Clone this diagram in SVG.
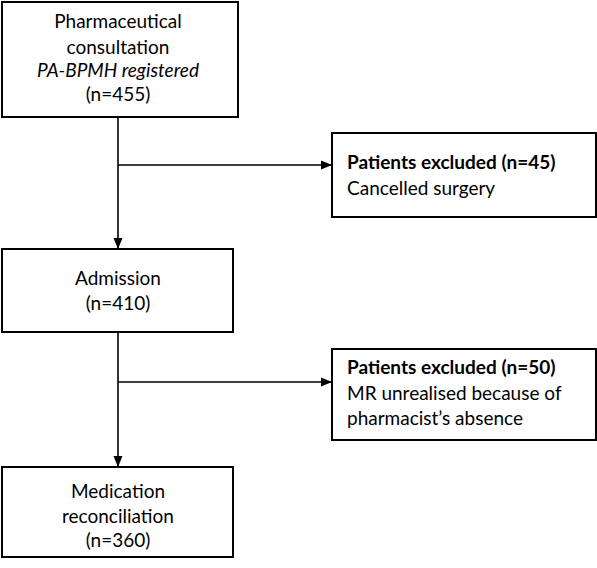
<svg xmlns="http://www.w3.org/2000/svg" width="597" height="568" viewBox="0 0 597 568">
<style>
.box{fill:#fff;stroke:#000;stroke-width:2}
.t{font-family:Lato,"Open Sans","Liberation Sans",sans-serif;font-size:19px;fill:#000}
.c{text-anchor:middle}
.b{font-weight:bold}
.i{font-style:italic}
.ln{stroke:#000;stroke-width:1.6;fill:none}
</style>
<defs>
<marker id="ah" markerWidth="11" markerHeight="10" refX="10" refY="5" orient="auto" markerUnits="userSpaceOnUse">
<path d="M0,0.5 L11,5 L0,9.5 Z" fill="#000"/>
</marker>
</defs>
<g id="connectors">
<path class="ln" d="M118,117 V248" marker-end="url(#ah)"/>
<path class="ln" d="M118,165 H331" marker-end="url(#ah)"/>
<path class="ln" d="M118,332 V466" marker-end="url(#ah)"/>
<path class="ln" d="M118,382 H331" marker-end="url(#ah)"/>
</g>
<g id="consultation">
<rect class="box" x="2" y="2" width="236" height="115"/>
<text class="t c" x="118" y="28">Pharmaceutical</text>
<text class="t c" x="118" y="54">consultation</text>
<text class="t c i" x="118" y="77">PA-BPMH registered</text>
<text class="t c" x="118" y="101">(n=455)</text>
</g>
<g id="excluded1">
<rect class="box" x="332" y="133" width="264" height="84"/>
<text class="t b" x="347" y="169">Patients excluded (n=45)</text>
<text class="t" x="347" y="195">Cancelled surgery</text>
</g>
<g id="admission">
<rect class="box" x="2" y="249" width="231" height="83"/>
<text class="t c" x="118" y="285">Admission</text>
<text class="t c" x="118" y="310">(n=410)</text>
</g>
<g id="excluded2">
<rect class="box" x="332" y="349" width="264" height="91"/>
<text class="t b" x="347" y="374">Patients excluded (n=50)</text>
<text class="t" x="347" y="400">MR unrealised because of</text>
<text class="t" x="347" y="425">pharmacist’s absence</text>
</g>
<g id="reconciliation">
<rect class="box" x="2" y="467" width="231" height="90"/>
<text class="t c" x="118" y="498">Medication</text>
<text class="t c" x="118" y="523">reconciliation</text>
<text class="t c" x="118" y="547">(n=360)</text>
</g>
</svg>
